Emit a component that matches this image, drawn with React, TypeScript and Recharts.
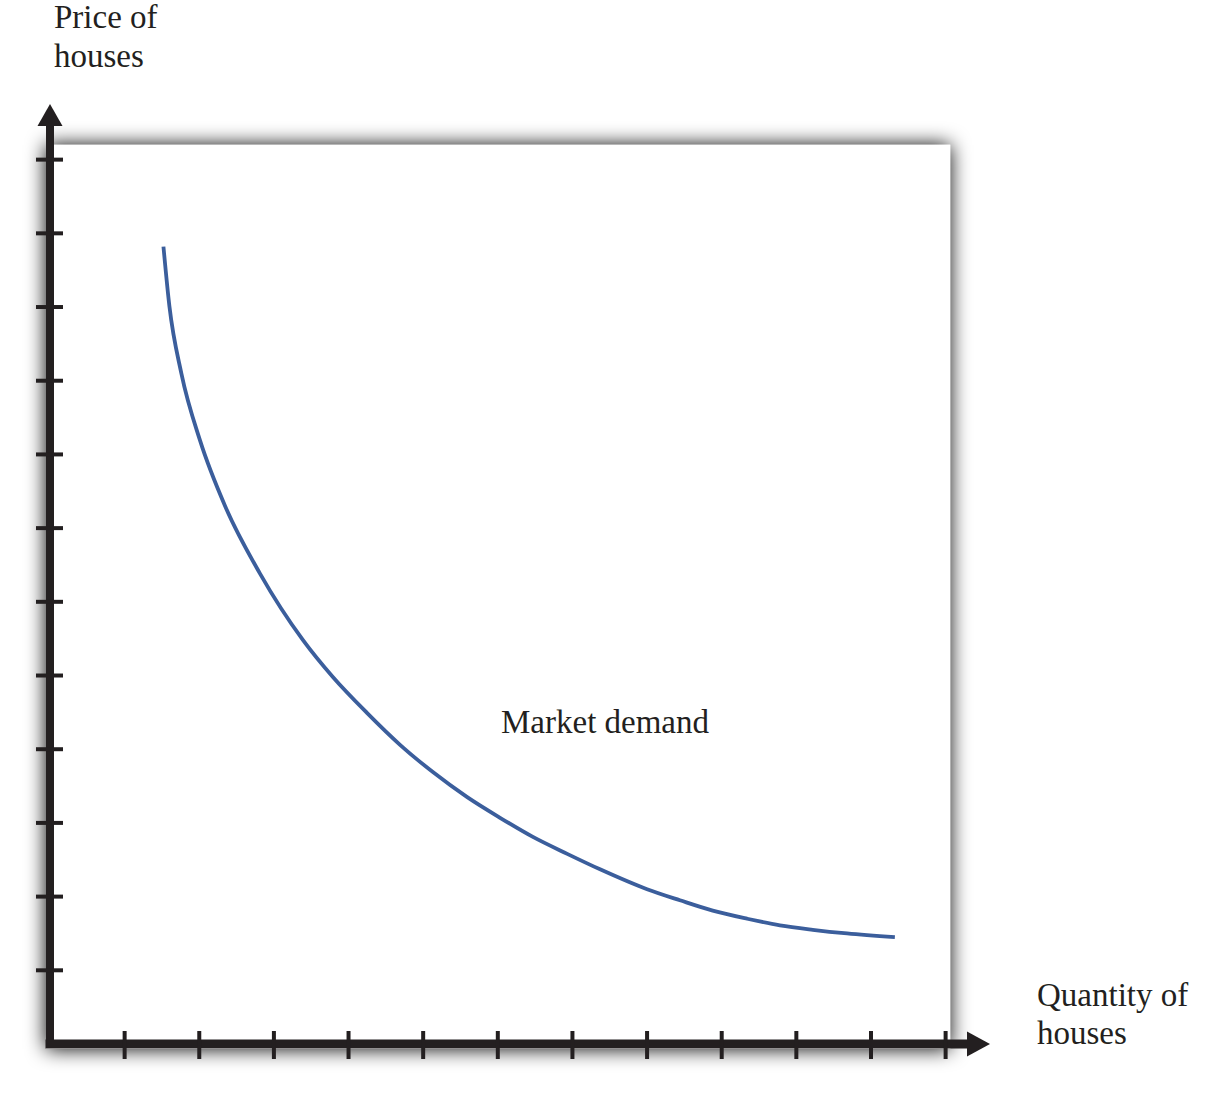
import { Line, LineChart, ReferenceArea, ReferenceDot, XAxis, YAxis } from "recharts";

// demand curve (quantity, price in tick units)
const quantity = [1.52, 1.6, 1.76, 2.01, 2.35, 2.81, 3.39, 3.79, 4.25, 4.69, 5.13, 5.59, 6.03, 6.47, 6.93, 7.37, 8.0, 8.44, 8.88, 9.34, 9.78, 10.22, 10.68, 11.32];
const price = [10.82, 10.01, 9.1, 8.19, 7.29, 6.39, 5.48, 4.98, 4.49, 4.06, 3.69, 3.35, 3.07, 2.81, 2.58, 2.37, 2.1, 1.95, 1.81, 1.7, 1.61, 1.55, 1.5, 1.45];

const xTicks = [1, 2, 3, 4, 5, 6, 7, 8, 9, 10, 11, 12];
const yTicks = [1, 2, 3, 4, 5, 6, 7, 8, 9, 10, 11, 12];

const xMax = 12.3; // arrow base
const yMax = 12.47;
const boxRight = 12.06;
const boxTop = 12.2;

const data = quantity.map((q, i) => ({ q, p: price[i] }));

const INK = "#231f20";
const BLUE = "#3b5e9c";
const FONT = "'Liberation Serif', 'Times New Roman', serif";

function XTick(props: any) {
  const { x, y } = props;
  return <line x1={x} x2={x} y1={y - 13} y2={y + 15} stroke={INK} strokeWidth={4} />;
}

function YTick(props: any) {
  const { x, y } = props;
  return <line x1={x - 14} x2={x + 13} y1={y} y2={y} stroke={INK} strokeWidth={4} />;
}

function ShadowBox(props: any) {
  const { x, y, width, height } = props;
  return (
    <g>
      <defs>
        <filter id="boxShadow" x="-10%" y="-10%" width="120%" height="120%">
          <feGaussianBlur in="SourceAlpha" stdDeviation="10" />
          <feComponentTransfer>
            <feFuncA type="linear" slope="1" />
          </feComponentTransfer>
          <feMerge>
            <feMergeNode />
            <feMergeNode in="SourceGraphic" />
          </feMerge>
        </filter>
      </defs>
      <rect x={x - 4} y={y} width={width + 4} height={height + 5} fill="#fff" filter="url(#boxShadow)" />
    </g>
  );
}

function UpArrow(props: any) {
  const { cx, cy } = props;
  return <polygon points={`${cx - 12.5},${cy + 1} ${cx + 12.5},${cy + 1} ${cx},${cy - 21}`} fill={INK} />;
}

function RightArrow(props: any) {
  const { cx, cy } = props;
  return <polygon points={`${cx - 1},${cy - 12.5} ${cx - 1},${cy + 12.5} ${cx + 22},${cy}`} fill={INK} />;
}

export default function App() {
  return (
    <div style={{ position: "absolute", left: 0, top: 0, width: 1206, height: 1097, background: "#fff" }}>
      <LineChart
        width={1206}
        height={1097}
        data={data}
        margin={{ top: 125, left: 49, right: 238, bottom: 52 }}
      >
        <ReferenceArea
          x1={0}
          x2={boxRight}
          y1={0}
          y2={boxTop}
          shape={ShadowBox}
          ifOverflow="visible"
          zIndex={-200}
        />
        <XAxis
          type="number"
          dataKey="q"
          domain={[0, xMax]}
          ticks={xTicks}
          allowDataOverflow
          height={1}
          tickSize={0}
          tickMargin={0}
          tickLine={false}
          tick={XTick}
          interval={0}
          axisLine={{ stroke: INK, strokeWidth: 9, strokeLinecap: "square" }}
        />
        <YAxis
          type="number"
          domain={[0, yMax]}
          ticks={yTicks}
          allowDataOverflow
          width={1}
          tickSize={0}
          tickMargin={0}
          tickLine={false}
          tick={YTick}
          interval={0}
          axisLine={{ stroke: INK, strokeWidth: 8, strokeLinecap: "square" }}
        />
        <Line
          type="monotoneX"
          dataKey="p"
          stroke={BLUE}
          strokeWidth={3.8}
          dot={false}
          activeDot={false}
          isAnimationActive={false}
        />
        <ReferenceDot x={0} y={yMax} r={0} shape={UpArrow} ifOverflow="visible" />
        <ReferenceDot x={xMax} y={0} r={0} shape={RightArrow} ifOverflow="visible" />
      </LineChart>
      <svg
        width={1206}
        height={1097}
        style={{ position: "absolute", left: 0, top: 0, pointerEvents: "none" }}
      >
        <g fontFamily={FONT} fontSize={33} fill={INK}>
          <text x={54} y={28}>Price of</text>
          <text x={54} y={67}>houses</text>
          <text x={501} y={733}>Market demand</text>
          <text x={1037} y={1006}>Quantity of</text>
          <text x={1037} y={1044}>houses</text>
        </g>
      </svg>
    </div>
  );
}
